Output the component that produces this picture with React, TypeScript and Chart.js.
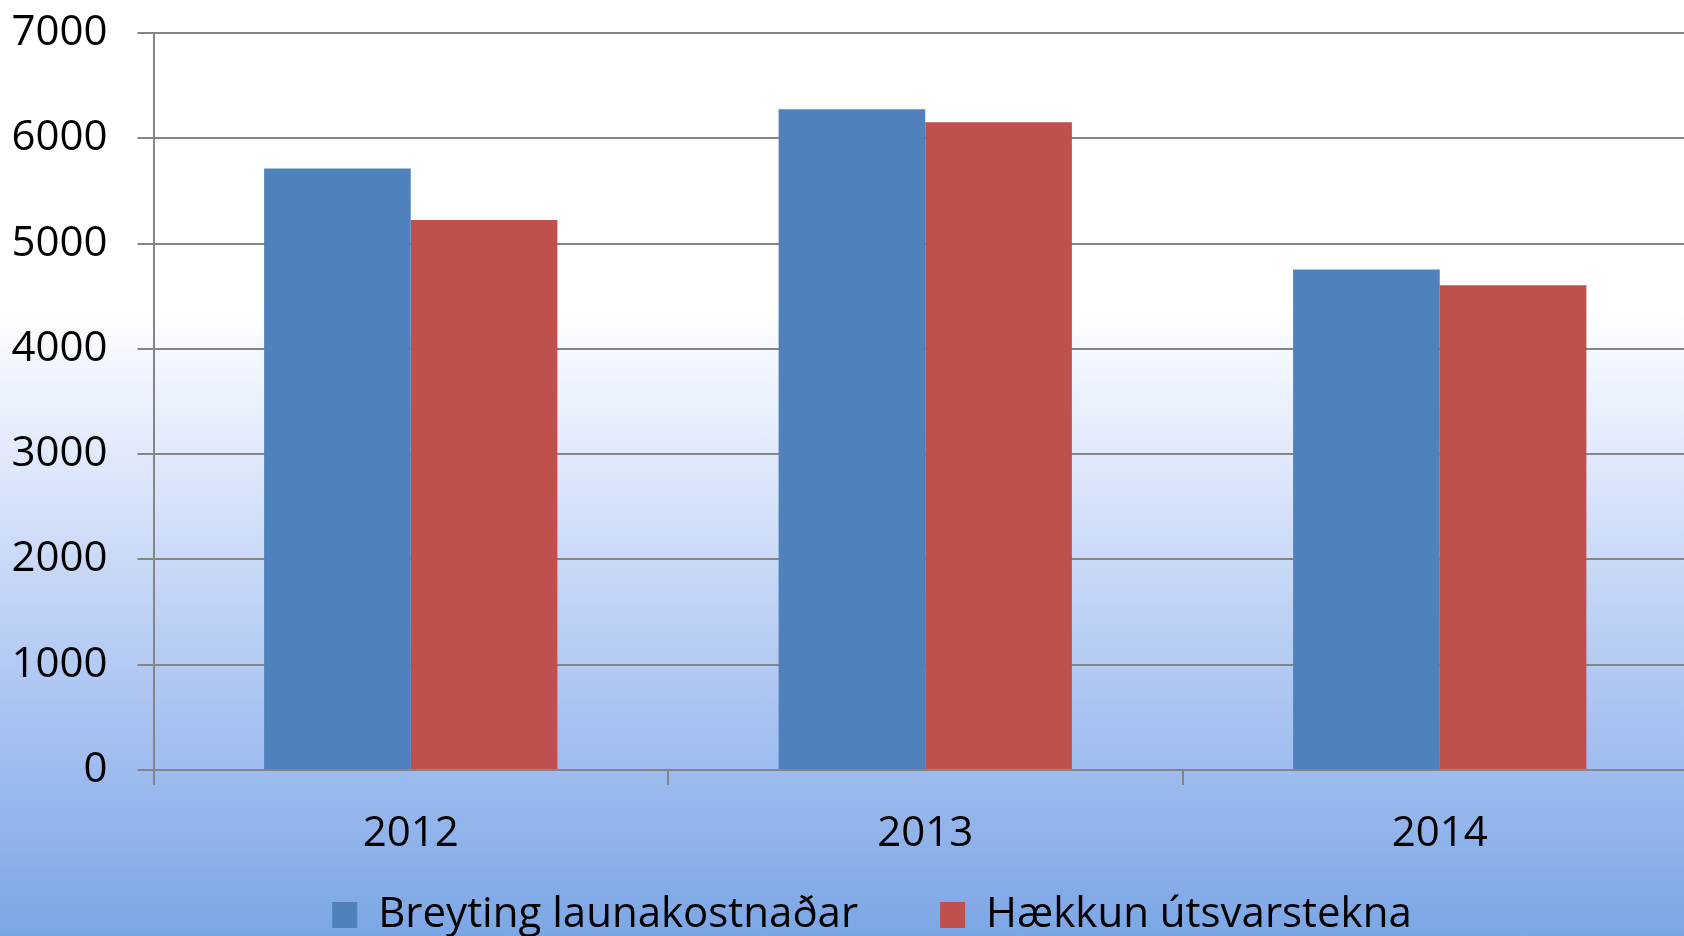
import React, { useEffect, useRef } from "react";
import { Chart, registerables } from "chart.js";

Chart.register(...registerables);

const categories = ["2012", "2013", "2014"];
const launakostnadur = [5712, 6276, 4754];
const utsvarstekjur = [5225, 6153, 4603];
const seriesNames = ["Breyting launakostnaðar", "Hækkun útsvarstekna"];
const yTickMax = 7000;
const yTickStep = 1000;

const FONT = "'Open Sans', 'DejaVu Sans', sans-serif";
const GRID = "#858585";

const LEGEND_PAD = 82;
const LEGEND_TOP = 812;
const LEGEND_LEFT = 47;
const X_AXIS_H = 100;
const CANVAS_W = 1697;
const CANVAS_H = 770 + X_AXIS_H + (42 + LEGEND_PAD + 10);

const legendMover = {
  id: "legendMover",
  afterLayout(chart: any) {
    const lg = chart.legend;
    if (!lg) return;
    const h = lg.height;
    lg.top = LEGEND_TOP;
    lg.bottom = LEGEND_TOP + h;
    lg.left = LEGEND_LEFT;
  },
};

export default function App() {
  const ref = useRef<HTMLCanvasElement | null>(null);

  useEffect(() => {
    if (!ref.current) return;
    const chart = new Chart(ref.current, {
      type: "bar",
      data: {
        labels: categories,
        datasets: [
          {
            label: seriesNames[0],
            data: launakostnadur,
            backgroundColor: "#4f81bd",
            borderWidth: 0,
            barPercentage: 1,
            categoryPercentage: 0.57,
          },
          {
            label: seriesNames[1],
            data: utsvarstekjur,
            backgroundColor: "#c0504d",
            borderWidth: 0,
            barPercentage: 1,
            categoryPercentage: 0.57,
          },
        ],
      },
      plugins: [legendMover],
      options: {
        responsive: false,
        animation: false,
        devicePixelRatio: 1,
        layout: { padding: { left: 0, top: 33, right: 0, bottom: 0 } },
        plugins: {
          tooltip: { enabled: false },
          title: { display: false },
          legend: {
            display: true,
            position: "bottom",
            labels: {
              boxWidth: 25,
              boxHeight: 26,
              padding: LEGEND_PAD,
              color: "#000000",
              font: { family: FONT, size: 42 },
            },
          },
        },
        scales: {
          x: {
            grid: {
              display: true,
              drawOnChartArea: false,
              drawTicks: true,
              tickLength: 15,
              color: GRID,
              lineWidth: 2,
              offset: true,
            },
            border: { display: true, color: GRID, width: 2 },
            ticks: {
              color: "#000000",
              padding: 24,
              font: { family: FONT, size: 42 },
              maxRotation: 0,
            },
            afterFit: (s: any) => {
              s.height = X_AXIS_H;
            },
          },
          y: {
            min: 0,
            max: yTickMax,
            grid: {
              color: GRID,
              lineWidth: 2,
              tickLength: 16,
              drawTicks: true,
            },
            border: { display: true, color: GRID, width: 2 },
            ticks: {
              stepSize: yTickStep,
              color: "#000000",
              padding: 30,
              font: { family: FONT, size: 42 },
              callback: (v: any) => String(v),
            },
            afterFit: (s: any) => {
              s.width = 153.5;
              s.paddingTop = 0;
              s.paddingBottom = 0;
            },
          },
        },
      },
    });
    return () => chart.destroy();
  }, []);

  return (
    <div
      style={{
        position: "fixed",
        left: 0,
        top: 0,
        width: 1684,
        height: 936,
        overflow: "hidden",
        background:
          "linear-gradient(to bottom, #ffffff 0%, #ffffff 33%, #f3f7fe 38%, #e0e9fb 49%, #c9d9f7 60%, #b3caf3 71%, #9ebcef 82%, #7ba6e5 100%)",
      }}
    >
      <canvas
        ref={ref}
        width={CANVAS_W}
        height={CANVAS_H}
        style={{ position: "absolute", left: 0, top: 0, width: CANVAS_W, height: CANVAS_H }}
      />
    </div>
  );
}
